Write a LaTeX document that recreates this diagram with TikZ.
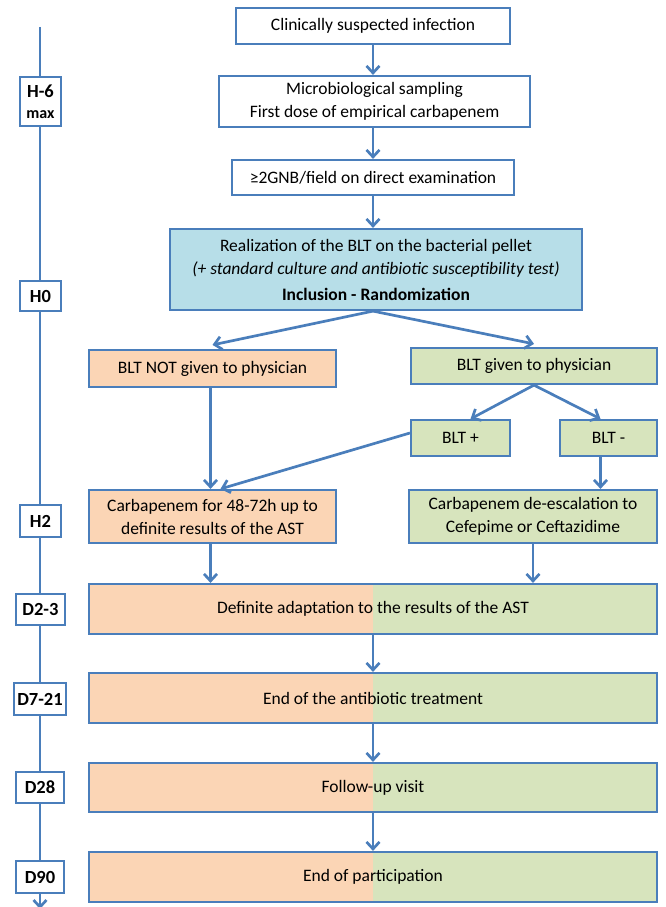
\documentclass[tikz,border=0pt]{standalone}
\usepackage{fontspec}
\setmainfont{Carlito}
\usetikzlibrary{arrows.meta,positioning}
\definecolor{lineblue}{HTML}{4A7EBB}
\definecolor{boxorange}{HTML}{FBD5B5}
\definecolor{boxgreen}{HTML}{D7E4BD}
\definecolor{boxblue}{HTML}{B7DEE8}

\begin{document}
\begin{tikzpicture}[x=1pt, y=-1pt,
font=\fontsize{17.5}{23}\selectfont,
stepbox/.style = {draw=lineblue, line width=2.2pt, fill=white,
                  align=center, inner sep=2pt},
greenbox/.style = {stepbox, fill=boxgreen},
orangebox/.style = {stepbox, fill=boxorange},
halfbox/.style = {stepbox, path picture={
      \fill[boxorange] (path picture bounding box.north west)
                       rectangle (path picture bounding box.south);
      \fill[boxgreen] (path picture bounding box.north)
                       rectangle (path picture bounding box.south east);}},
timebox/.style = {stepbox, font=\fontsize{18.5}{20}\selectfont\bfseries,
                  inner sep=1pt},
arrow/.style = {draw=lineblue, line width=2.7pt,
                -{Straight Barb[length=7pt, width=13pt]}}
                   ]
\useasboundingbox (0,0) rectangle (665,907);
% time line
\coordinate (tltop) at (40,27);
\coordinate (tlend) at (40,909);
\draw[arrow] (tltop) -- (tlend);
\node[timebox, minimum width=41, minimum height=49] (hsix) at (40.5,101.5)
     {H-6\\[1pt] \fontsize{16}{17}\selectfont max};
\node[timebox, minimum width=41, minimum height=30] (hzero) at (40.5,296) {H0};
\node[timebox, minimum width=41, minimum height=32] (htwo) at (40.5,521) {H2};
\node[timebox, minimum width=49, minimum height=31] (dtwo) at (40.5,609.5) {D2-3};
\node[timebox, minimum width=52, minimum height=32] (dseven) at (40,699) {D7-21};
\node[timebox, minimum width=48, minimum height=31] (dtwentyeight) at (40,787.5) {D28};
\node[timebox, minimum width=48, minimum height=32] (dninety) at (40,877) {D90};

% flow chart
\node[stepbox, minimum width=274, minimum height=36] (suspected) at (373,26)
     {Clinically suspected infection};
\node[stepbox, minimum width=311, minimum height=51] (sampling) at (374.5,101.5)
     {Microbiological sampling\\ First dose of empirical carbapenem};
\node[stepbox, minimum width=282, minimum height=35] (gnb) at (373,177.5)
     {≥2GNB/field on direct examination};
\node[stepbox, fill=boxblue, minimum width=412, minimum height=81] (inclusion) at (376,269.5)
     {Realization of the BLT on the bacterial pellet\\
      \itshape (+ standard culture and antibiotic susceptibility test)\\[3pt]
      \bfseries Inclusion - Randomization};
\node[orangebox, minimum width=247, minimum height=37] (notgiven) at (212.5,368.5)
     {BLT NOT given to physician};
\node[greenbox, minimum width=246, minimum height=36] (given) at (534,366)
     {BLT given to physician};
\node[greenbox, minimum width=99, minimum height=36] (bltplus) at (460.5,438) {BLT +};
\node[greenbox, minimum width=97, minimum height=36] (bltminus) at (608.5,438) {BLT -};
\node[orangebox, minimum width=247, minimum height=53] (carbleft) at (212.5,516.5)
     {Carbapenem for 48-72h up to\\ definite results of the AST};
\node[greenbox, minimum width=248, minimum height=53] (carbright) at (533,516.5)
     {Carbapenem de-escalation to\\ Cefepime or Ceftazidime};
\node[halfbox, minimum width=568, minimum height=50] (adaptation) at (373,609)
     {Definite adaptation to the results of the AST};
\node[halfbox, minimum width=568, minimum height=50] (endtreat) at (373,698)
     {End of the antibiotic treatment};
\node[halfbox, minimum width=568, minimum height=49] (followup) at (373,787.5)
     {Follow-up visit};
\node[halfbox, minimum width=568, minimum height=50] (endpart) at (373,877)
     {End of participation};

\draw[arrow] (suspected.south) -- (suspected.south |- sampling.north);
\draw[arrow] (gnb.north |- sampling.south) -- (gnb.north);
\draw[arrow] (gnb.south) -- (gnb.south |- inclusion.north);
\draw[arrow] ([xshift=-3]inclusion.south) -- ([yshift=4]notgiven.north);
\draw[arrow] ([xshift=-3]inclusion.south) -- ([yshift=3]given.north);
\draw[arrow] (given.south) -- ([xshift=10]bltplus.north);
\draw[arrow] (given.south) -- ([xshift=-8]bltminus.north);
\draw[arrow] ([xshift=-2]notgiven.south) -- ([xshift=-2]carbleft.north);
\draw[arrow] ([yshift=5]bltplus.west) -- ([xshift=8]carbleft.north);
\draw[arrow] ([xshift=-8]bltminus.south) -- ([xshift=-8]bltminus.south |- carbright.north);
\draw[arrow] ([xshift=-2]carbleft.south) -- ([xshift=-2]carbleft.south |- adaptation.north);
\draw[arrow] (carbright.south) -- (carbright.south |- adaptation.north);
\draw[arrow] (adaptation.south) -- (endtreat.north);
\draw[arrow] (endtreat.south) -- (followup.north);
\draw[arrow] (followup.south) -- (endpart.north);
\end{tikzpicture}
\end{document}
